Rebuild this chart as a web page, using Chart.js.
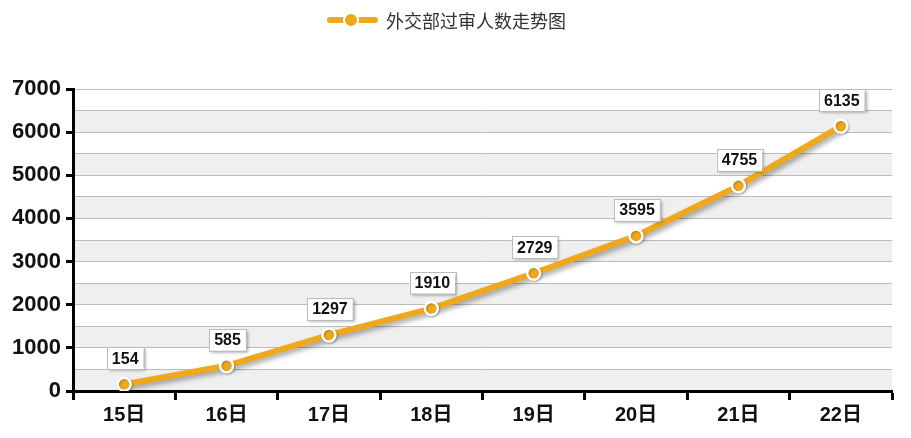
<!DOCTYPE html>
<html>
<head>
<meta charset="utf-8">
<script src="https://cdn.jsdelivr.net/npm/chart.js@4.4.0/dist/chart.umd.min.js"></script>
<style>
  body { margin: 0; background: #fff; }
  #wrap { position: relative; width: 911px; height: 438px; }
  #legend { position: absolute; top: 8px; left: 327px; height: 24px; display: flex; align-items: center;
    font-family: "Noto Sans CJK SC", sans-serif; font-size: 18px; color: #333; }
  #legend .mk { position: relative; width: 51px; height: 24px; margin-right: 8px; }
  #legend .mk .ln { position: absolute; left: 0; right: 0; top: 9px; height: 6px; background: #efa81b; border-radius: 3px; }
  #legend .mk .dot { position: absolute; left: 16px; top: 4px; width: 12px; height: 12px; border-radius: 50%;
    background: #efa81b; border: 2px solid #fff; }
</style>
</head>
<body>
<div id="wrap">
  <canvas id="c" width="911" height="438"></canvas>
  <div id="legend"><span class="mk"><span class="ln"></span><span class="dot"></span></span>外交部过审人数走势图</div>
</div>
<script>
// 数据
const days = ['15日', '16日', '17日', '18日', '19日', '20日', '21日', '22日'];
const counts = [154, 585, 1297, 1910, 2729, 3595, 4755, 6135];
const seriesName = '外交部过审人数走势图';

const lineColor = '#efa81b';

// 灰白相间的背景带
const bands = {
  id: 'bands',
  beforeDraw(chart) {
    const { ctx, chartArea: a, scales: { y } } = chart;
    ctx.save();
    ctx.fillStyle = '#efefef';
    for (let v = 0; v < 7000; v += 1000) {
      const y1 = y.getPixelForValue(v + 500), y0 = y.getPixelForValue(v);
      ctx.fillRect(a.left, y1, a.right - a.left, y0 - y1);
    }
    ctx.restore();
  }
};

// 折线阴影 (只给线，不给点)
const lineShadow = {
  id: 'lineShadow',
  beforeDatasetDraw(chart, args) {
    const ctx = chart.ctx;
    ctx.save();
    if (args.index === 1) {
      ctx.shadowColor = 'rgba(0,0,0,0.35)';
      ctx.shadowBlur = 5;
      ctx.shadowOffsetX = 2;
      ctx.shadowOffsetY = 3;
    } else {
      ctx.shadowColor = 'rgba(0,0,0,0.25)';
      ctx.shadowBlur = 2;
      ctx.shadowOffsetX = 1;
      ctx.shadowOffsetY = 1;
    }
  },
  afterDatasetDraw(chart) {
    chart.ctx.restore();
  }
};

// 数值标签框
const valueBoxes = {
  id: 'valueBoxes',
  afterDatasetsDraw(chart) {
    const ctx = chart.ctx;
    const meta = chart.getDatasetMeta(0);
    ctx.save();
    ctx.font = 'bold 16px "Liberation Sans", Arial, sans-serif';
    ctx.textAlign = 'center';
    ctx.textBaseline = 'middle';
    meta.data.forEach((pt, i) => {
      const txt = String(counts[i]);
      const w = ctx.measureText(txt).width + 10, h = 22;
      const cx = pt.x + 1, cy = pt.y - 26;
      ctx.save();
      ctx.shadowColor = 'rgba(0,0,0,0.35)';
      ctx.shadowBlur = 3;
      ctx.shadowOffsetX = 2;
      ctx.shadowOffsetY = 2;
      ctx.fillStyle = '#fff';
      ctx.fillRect(cx - w / 2, cy - h / 2, w, h);
      ctx.restore();
      ctx.strokeStyle = '#bbb';
      ctx.lineWidth = 1;
      ctx.strokeRect(Math.round(cx - w / 2) + 0.5, Math.round(cy - h / 2) + 0.5, Math.round(w), h);
      ctx.fillStyle = '#111';
      ctx.fillText(txt, cx, cy + 1);
    });
    ctx.restore();
  }
};

new Chart(document.getElementById('c'), {
  type: 'line',
  data: {
    labels: days,
    datasets: [{
      label: seriesName,
      data: counts,
      showLine: false,
      pointRadius: 6.5,
      pointBackgroundColor: lineColor,
      pointBorderColor: '#fff',
      pointBorderWidth: 2.5
    }, {
      label: seriesName,
      data: counts,
      borderColor: lineColor,
      borderWidth: 6,
      pointRadius: 0,
      tension: 0
    }]
  },
  options: {
    responsive: false,
    animation: false,
    layout: { padding: { top: 89, right: 19, left: 0, bottom: 0 } },
    plugins: {
      legend: { display: false },
      tooltip: { enabled: false }
    },
    scales: {
      x: {
        offset: true,
        afterFit(s) { s.height = 47; },
        border: { color: '#000', width: 3 },
        grid: { offset: true, drawOnChartArea: false, tickLength: 9, tickColor: '#000', tickWidth: 3 },
        ticks: { color: '#111', padding: 3, font: { family: '"Liberation Sans", Arial, "Noto Sans CJK SC"', size: 20, weight: 'bold' } }
      },
      y: {
        min: 0,
        max: 7000,
        afterFit(s) { s.width = 73; },
        border: { color: '#000', width: 3 },
        grid: {
          color: '#bbb',
          lineWidth: 1,
          tickLength: 7,
          tickWidth: 3,
          tickColor: c => (c.tick && c.tick.value % 1000 === 0) ? '#000' : 'rgba(0,0,0,0)'
        },
        ticks: {
          stepSize: 500,
          autoSkip: false,
          padding: 5,
          color: '#111',
          font: { family: '"Liberation Sans", Arial, sans-serif', size: 22, weight: 'bold' },
          callback: v => v % 1000 === 0 ? v : ''
        }
      }
    }
  },
  plugins: [bands, lineShadow, valueBoxes]
});
</script>
</body>
</html>
